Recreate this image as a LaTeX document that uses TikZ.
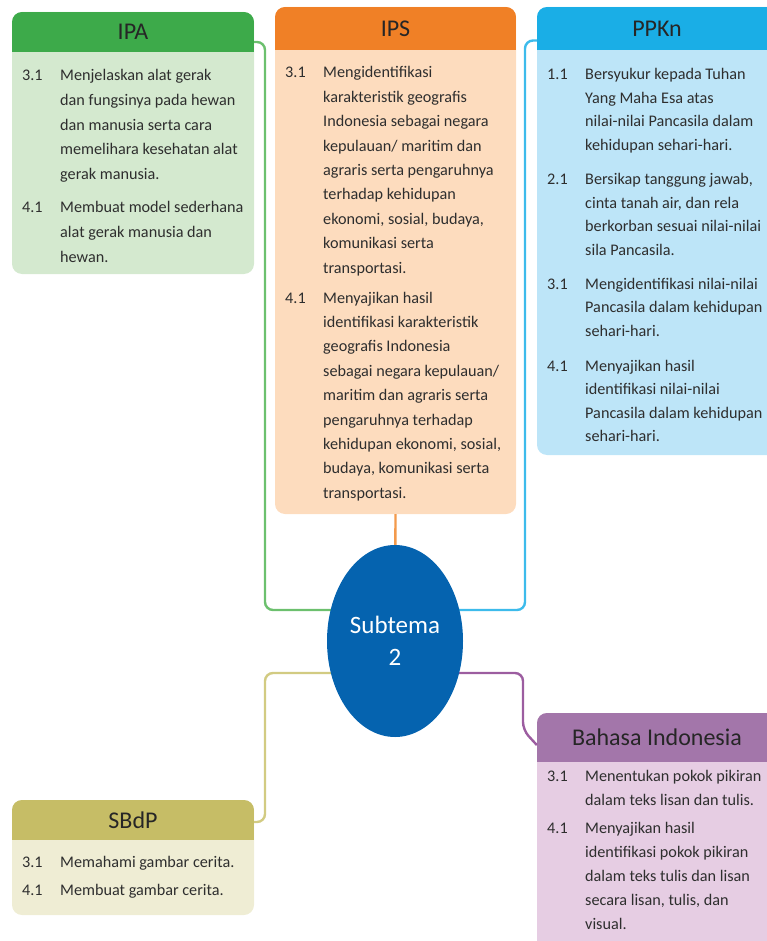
\documentclass[tikz,border=0pt]{standalone}
\usepackage{fontspec}
\setmainfont{Carlito}
\usetikzlibrary{shapes.geometric}
\definecolor{ipaH}{HTML}{3DAA4A}\definecolor{ipaB}{HTML}{D4E9CF}
\definecolor{ipsH}{HTML}{F08026}\definecolor{ipsB}{HTML}{FDDCBE}
\definecolor{ppkH}{HTML}{1AAEE6}\definecolor{ppkB}{HTML}{BDE5F8}
\definecolor{bhsH}{HTML}{A376AA}\definecolor{bhsB}{HTML}{E6CDE3}
\definecolor{sbdH}{HTML}{C6BD66}\definecolor{sbdB}{HTML}{EFEDD4}
\definecolor{ellC}{HTML}{0563AF}
\definecolor{cGreen}{HTML}{6CC06E}\definecolor{cOrange}{HTML}{F39A4C}
\definecolor{cBlue}{HTML}{3DBBEB}\definecolor{cOlive}{HTML}{D2CB82}
\definecolor{cPurple}{HTML}{9C5DA0}
\definecolor{txtgray}{HTML}{2E2E2E}\definecolor{ttlgray}{HTML}{262626}
\newcommand\kditem[6]{%
  \node[num, font=\fontsize{16.2}{#6}\selectfont] (#1n) at (#2,#3) {#4};
  \node[num, font=\fontsize{16.2}{#6}\selectfont] (#1t) at (#2+38,#3) {\parbox[t]{240pt}{\raggedright #5}};}
\newcommand\kdbox[8]{% name, x1,y1,x2,y2, header height, head col, body col
  \node[kbox, fill=#8, minimum width=#4-#2, minimum height=#5-#3] (#1) at (#2,#3) {};
  \begin{scope}
    \clip[rounded corners=10pt] (#1.north west) rectangle (#1.south east);
    \fill[#7] (#1.north west) rectangle ([yshift=-#6pt]#1.north east);
  \end{scope}}
\tikzset{
  kbox/.style={rectangle, rounded corners=10pt, inner sep=0pt, outer sep=0pt, anchor=north west},
  ttl/.style={inner sep=0pt, font=\fontsize{24}{26}\selectfont, text=ttlgray},
  num/.style={inner sep=0pt, anchor=base west, text=txtgray},
  conn/.style={line width=2.4pt, rounded corners=8pt},
}
\begin{document}
\begin{tikzpicture}[x=1pt,y=-1pt]
\useasboundingbox (0,0) rectangle (767,941);
\clip (0,0) rectangle (767,941);
% boxes
\kdbox{ipa}{12}{12}{254}{274}{40}{ipaH}{ipaB}
\kdbox{ips}{275}{7}{516}{514}{43}{ipsH}{ipsB}
\kdbox{ppk}{537}{7}{777}{455}{43}{ppkH}{ppkB}
\kdbox{sbd}{12}{800}{254}{915}{40}{sbdH}{sbdB}
\kdbox{bhs}{537}{713}{777}{960}{49}{bhsH}{bhsB}
% titles
\node[ttl, minimum width=242pt, minimum height=40pt] (ipah) at (133,32) {IPA};
\node[ttl, minimum width=241pt, minimum height=43pt] (ipsh) at (395.5,28.5) {IPS};
\node[ttl, minimum width=240pt, minimum height=43pt] (ppkh) at (657,28.5) {PPKn};
\node[ttl, minimum width=242pt, minimum height=40pt] (sbdh) at (133,820) {SBdP};
\node[ttl, minimum width=240pt, minimum height=49pt] (bhsh) at (657,737.5) {Bahasa Indonesia};
% centre (anchor for connectors)
\coordinate (c) at (395,641);
\coordinate (g1) at (265,610);
\coordinate (g2) at (525,610);
\coordinate (g3) at (265,673);
\coordinate (g4) at (523,673);
% connectors
\draw[conn, cGreen] ([yshift=-10pt]ipah.east) -- (265,42) -- (g1) -- (c |- g1);
\draw[conn, cBlue] ([yshift=-12pt]ppkh.west) -- (525,40.5) -- (g2) -- (c |- g2);
\draw[conn, cOlive] ([yshift=-2pt]sbdh.east) -- (265,822) -- (g3) -- (c |- g3);
\draw[conn, cPurple] (c |- g4) -- (g4) -- (523,730) -- ([yshift=-7.5pt]bhsh.west);
\draw[conn, cOrange] (ips.south) -- (c);
\node[ellipse, fill=ellC, minimum width=136pt, minimum height=192pt, inner sep=0pt] (ell) at (c) {};
\node[text=white, align=center, font=\fontsize{25}{32}\selectfont] (ct) at (ell) {Subtema\\2};
% IPA
\kditem{ipa1}{22}{81}{3.1}{Menjelaskan alat gerak\\dan fungsinya pada hewan\\dan manusia serta cara\\memelihara kesehatan alat\\gerak manusia.}{24.6}
\kditem{ipa2}{22}{213}{4.1}{Membuat model sederhana\\alat gerak manusia dan\\hewan.}{24.6}
% IPS
\kditem{ips1}{285}{78}{3.1}{Mengidentifikasi\\karakteristik geografis\\Indonesia sebagai negara\\kepulauan/ maritim dan\\agraris serta pengaruhnya\\terhadap kehidupan\\ekonomi, sosial, budaya,\\komunikasi serta\\transportasi.}{24.4}
\kditem{ips2}{285}{303}{4.1}{Menyajikan hasil\\identifikasi karakteristik\\geografis Indonesia\\sebagai negara kepulauan/\\maritim dan agraris serta\\pengaruhnya terhadap\\kehidupan ekonomi, sosial,\\budaya, komunikasi serta\\transportasi.}{24.4}
% PPKn
\kditem{ppk1}{547}{80}{1.1}{Bersyukur kepada Tuhan\\Yang Maha Esa atas\\nilai-nilai Pancasila dalam\\kehidupan sehari-hari.}{23.5}
\kditem{ppk2}{547}{185}{2.1}{Bersikap tanggung jawab,\\cinta tanah air, dan rela\\berkorban sesuai nilai-nilai\\sila Pancasila.}{23.5}
\kditem{ppk3}{547}{289}{3.1}{Mengidentifikasi nilai-nilai\\Pancasila dalam kehidupan\\sehari-hari.}{23.5}
\kditem{ppk4}{547}{371}{4.1}{Menyajikan hasil\\identifikasi nilai-nilai\\Pancasila dalam kehidupan\\sehari-hari.}{23.5}
% Bahasa Indonesia
\kditem{bhs1}{547}{781}{3.1}{Menentukan pokok pikiran\\dalam teks lisan dan tulis.}{24}
\kditem{bhs2}{547}{833}{4.1}{Menyajikan hasil\\identifikasi pokok pikiran\\dalam teks tulis dan lisan\\secara lisan, tulis, dan\\visual.}{24}
% SBdP
\kditem{sbd1}{22}{867}{3.1}{Memahami gambar cerita.}{24}
\kditem{sbd2}{22}{895}{4.1}{Membuat gambar cerita.}{24}
\end{tikzpicture}
\end{document}
